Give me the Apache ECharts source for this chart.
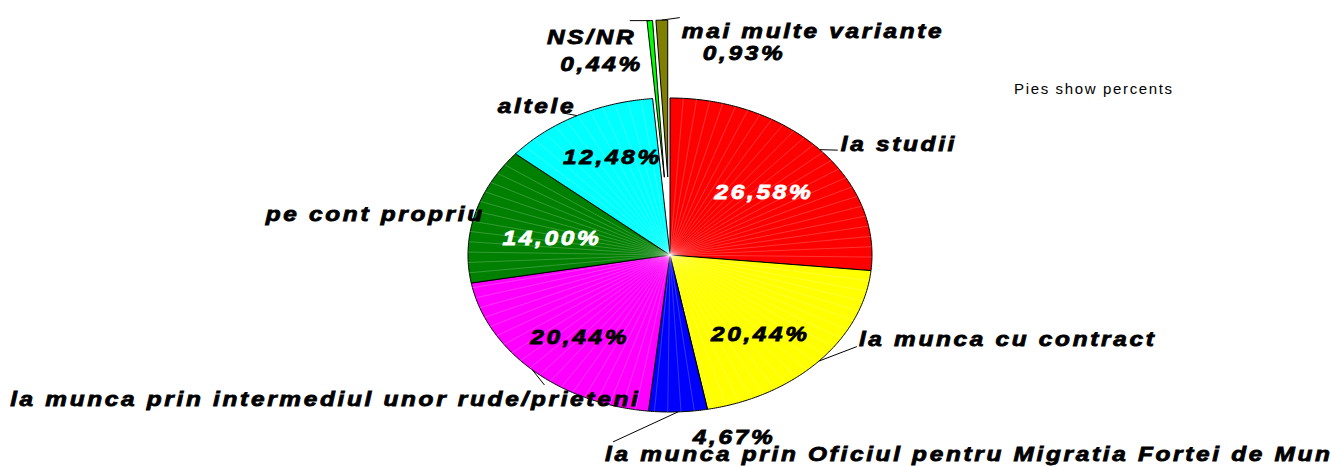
<!DOCTYPE html>
<html lang="ro">
<head>
<meta charset="UTF-8">
<title>Pies show percents</title>
<script src="https://cdn.jsdelivr.net/npm/echarts@6/dist/echarts.min.js"></script>
<style>
    html, body { margin: 0; padding: 0; background: #fff; }
    #main { width: 1331px; height: 466px; }
    /* excel-like wide lettering */
    #main svg text { letter-spacing: 0.11em; }
</style>
</head>
<body>
<div id="main"></div>
<script type="text/javascript">
// data, clockwise from 12 o'clock
var categories = [
    'la studii',
    'la munca cu contract',
    'la munca prin Oficiul pentru Migratia Fortei de Munca',
    'la munca prin intermediul unor rude/prieteni',
    'pe cont propriu',
    'altele',
    'NS/NR',
    'mai multe variante'
];
var percents = [26.58, 20.44, 4.67, 20.44, 14.00, 12.48, 0.44, 0.93];
var colors = ['#ff0000', '#ffff00', '#0000ff', '#ff00ff', '#008000', '#00ffff', '#00ff00', '#808000'];

// layout of the (elliptic) pie
var cx = 670, cy = 255, rx = 202, ry = 157;
var explodeDist = 78;
var textScale = 1.22;
var font = { fontSize: 20, fontFamily: 'Liberation Sans, Arial, sans-serif', fontStyle: 'italic', fontWeight: 'bold' };

// label placement relative to the slice edge point (Excel put them by hand)
var labelLayout = [
    { leader: [18, 0.5], name: [21, -5.5, 'left'], pctIn: true, pct: [1, 3], pctColor: '#fff' },
    { leader: [38, -14.5], name: [40, -22, 'left'], pctIn: true, pct: [-2, 14], pctColor: '#000' },
    { leader: [-65, 30], name: [-73, 42, 'left'], pctIn: false, pct: [56, 25, 'center'], pctColor: '#000' },
    { leader: [12, 15], name: [108, 29, 'right'], pctIn: true, pct: [-5, 11], pctColor: '#000' },
    { leader: null, name: [10, 0, 'right'], pctIn: true, pct: [3, 8], pctColor: '#fff' },
    { leader: [-14.7, -2.7], name: [-0.7, -9.7, 'right'], pctIn: true, pct: [0, -11], pctColor: '#000' },
    { leader: [-20, 0], name: [-13.5, 16.5, 'right'], pctIn: false, pct: [-7, 44, 'right'], pctColor: '#000', explode: true },
    { leader: [18, -2.5], name: [20, 11, 'left'], pctIn: false, pct: [41, 33, 'left'], pctColor: '#000', explode: true }
];

var total = 0, starts = [];
percents.forEach(function (v) { starts.push(total); total += v; });

function fmt(v) {
    return v.toFixed(2).replace('.', ',') + '%';
}

function label(x, y, text, align, color) {
    return {
        type: 'text', x: x, y: y, scaleX: textScale, z2: 20, silent: true,
        style: Object.assign({
            text: text, x: 0, y: 0, fill: color, align: align, verticalAlign: 'middle',
            stroke: color, lineWidth: 0.8
        }, font)
    };
}

function renderItem(params, api) {
    var i = params.dataIndex;
    var lay = labelLayout[i];
    var a0 = starts[i] / total * Math.PI * 2;
    var a1 = a0 + api.value(1) / total * Math.PI * 2;
    var am = (a0 + a1) / 2;
    var ox = lay.explode ? explodeDist * Math.sin(am) : 0;
    var oy = lay.explode ? -explodeDist * Math.cos(am) : 0;
    var c = [cx + ox, cy + oy];
    function pt(a, f) {
        return [c[0] + rx * f * Math.sin(a), c[1] - ry * f * Math.cos(a)];
    }

    var pts = [c];
    var n = Math.max(2, Math.ceil((a1 - a0) / 0.01));
    for (var k = 0; k <= n; k++) pts.push(pt(a0 + (a1 - a0) * k / n, 1));

    var children = [{
        type: 'polygon', shape: { points: pts },
        style: { fill: colors[i], stroke: '#000', lineWidth: 1 }
    }];

    // thin light streaks like the old excel fill
    var step = 0.066;
    for (var a = a0 + step; a < a1 - step * 0.4; a += step) {
        var e = pt(a, 1);
        children.push({
            type: 'line', silent: true, z2: 1,
            shape: { x1: c[0], y1: c[1], x2: e[0], y2: e[1] },
            style: { stroke: 'rgba(255,255,255,0.35)', lineWidth: 0.6 }
        });
    }

    var anc = pt(am, 1);
    if (lay.leader) {
        children.push({
            type: 'polyline', silent: true, z2: 15,
            shape: { points: [anc, [anc[0] + lay.leader[0], anc[1] + lay.leader[1]]] },
            style: { stroke: '#000', lineWidth: 1, fill: null }
        });
    }
    children.push(label(anc[0] + lay.name[0], anc[1] + lay.name[1], categories[i], lay.name[2], '#000'));

    if (lay.pctIn) {
        var p = pt(am, 0.62);
        children.push(label(p[0] + lay.pct[0], p[1] + lay.pct[1], fmt(percents[i]), 'center', lay.pctColor));
    } else {
        children.push(label(anc[0] + lay.pct[0], anc[1] + lay.pct[1], fmt(percents[i]), lay.pct[2], lay.pctColor));
    }

    return { type: 'group', children: children };
}

var myChart = echarts.init(document.getElementById('main'), null, { renderer: 'svg' });

var option = {
    animation: false,
    backgroundColor: '#fff',
    title: {
        text: 'Pies show percents',
        left: 1009,
        top: 76,
        textStyle: { fontSize: 15, fontWeight: 'normal', fontFamily: 'Liberation Sans, Arial, sans-serif', color: '#000' }
    },
    series: [{
        type: 'custom',
        coordinateSystem: 'none',
        renderItem: renderItem,
        data: categories.map(function (name, i) {
            return { name: name, value: [i, percents[i]] };
        })
    }]
};

myChart.setOption(option);
</script>
</body>
</html>
